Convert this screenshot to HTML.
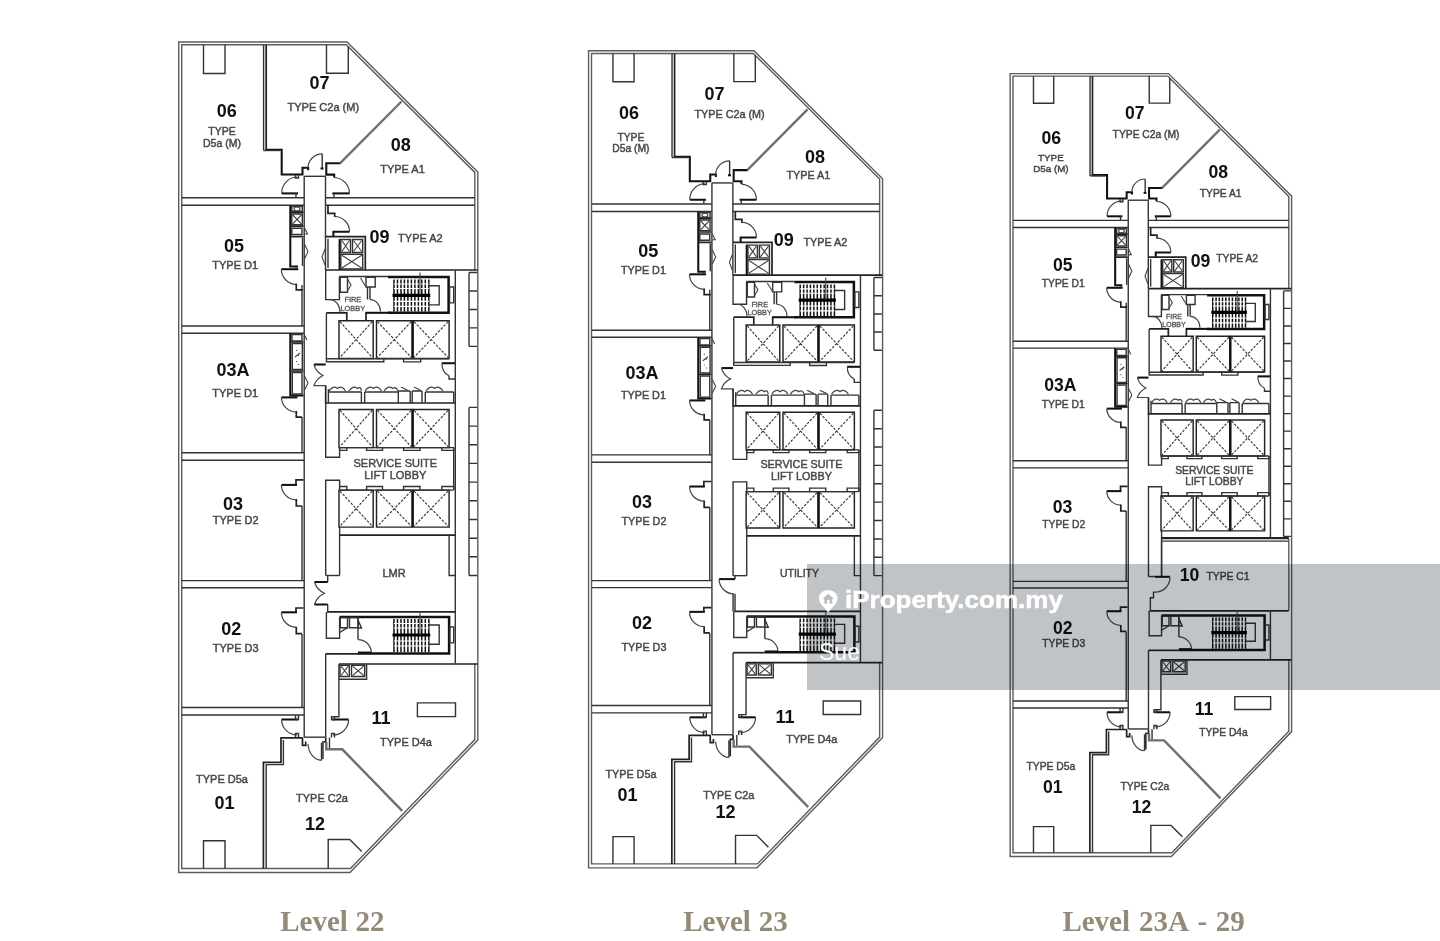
<!DOCTYPE html>
<html><head><meta charset="utf-8">
<style>
html,body{margin:0;padding:0;background:#fff;}
body{width:1440px;height:941px;overflow:hidden;position:relative;font-family:"Liberation Sans",sans-serif;}
svg{position:absolute;left:0;top:0;}
#main{filter:blur(0.45px);}
path{fill:none;vector-effect:non-scaling-stroke;}
.o{stroke:#5c5c5c;stroke-width:1.4;}
.t{stroke:#333;stroke-width:1.4;}
.k1{stroke:#222;stroke-width:1.7;}
.k{stroke:#111;stroke-width:2.05;}
.kk{stroke:#111;stroke-width:2.5;}
.g{stroke:#707070;stroke-width:2.4;}
.a{stroke:#444;stroke-width:1.2;}
.d{stroke:#444;stroke-width:1.1;}
.dx{stroke:#3a3a3a;stroke-width:1.15;stroke-dasharray:2.6 1.4;}
.t2{stroke:#222;stroke-width:1.45;}
.s{stroke:#111;stroke-width:1.5;}
.w{stroke:#fff;stroke-width:1.1;}
.b{stroke:#000;stroke-width:3.2;}
text{font-family:"Liberation Sans",sans-serif;}
.n{font-weight:bold;fill:#111;}
.m{fill:#484848;stroke:#484848;stroke-width:0.45;}
.f{fill:#555;stroke:#555;stroke-width:0.3;}
.lv{font-family:"Liberation Serif",serif;fill:#948a77;}
.wm{position:absolute;left:807px;top:564px;width:633px;height:126px;background:#c0c4c7;mix-blend-mode:multiply;}
.wmt{position:absolute;left:844.6px;top:585.2px;color:#fff;font-weight:bold;font-size:24.5px;white-space:nowrap;line-height:30px;transform:scaleX(1.062);transform-origin:0 0;-webkit-text-stroke:0.5px #fff;}
.sue{position:absolute;left:819px;top:638px;color:#fff;font-size:23px;line-height:28px;}
</style></head><body>
<svg id="main" width="1440" height="941" viewBox="0 0 1440 941">
<defs>
<g id="common">
<path class="o" d="M178.7 42H347L477.8 172V740L350 872.5H178.7Z"/>
<path class="o" d="M474.8 270V172.4L346.3 44.7H181.7V868.5H350.5L474.8 739.6V663.5"/>
<path class="t" d="M304 197.7H181.7M181.7 205.3H304"/>
<path class="t" d="M304 326H181.7M181.7 333.2H304"/>
<path class="t" d="M304 452.7H181.7M181.7 460.2H304"/>
<path class="t" d="M304 580.6H181.7M181.7 587.7H304"/>
<path class="t" d="M304 707.5H181.7M181.7 715H304"/>
<path class="t" d="M325.5 197.7H474.8M474.8 205.3H325.5"/>
<path class="t" d="M304.2 176.3V737.2M302 285V326M302 417V453M302 506V581M302 634V707.5"/>
<path class="t" d="M325.5 176.3V270"/>
<path class="t" d="M304.2 176.3H325.5"/>
<path class="t" d="M304.2 737.2H325.5"/>
<path class="t" d="M325.7 653.8V737.2"/>
<path class="t" d="M203.5 44.7V73.5H225V44.7"/>
<path class="t" d="M326.5 44.7V73.3H348.3V47"/>
<path class="t" d="M203.5 868.5V840.8H225V868.5"/>
<path class="t" d="M328.2 868.5V839.5H349.7L361.7 851.5"/>
<path class="t" d="M263.6 44.7V150.5"/>
<path class="k1" d="M266.2 44.7V149.5"/>
<path class="k" d="M265.5 149.7H281.7V174.5H302.5V167.8H308.2V170.3"/>
<path class="t" d="M263.6 150.5H280"/>
<path class="t" d="M322.2 153.8V168.5"/>
<path class="a" d="M322.2 153.8A14.2 14.2 0 0 0 308 168"/>
<path class="k" d="M320.5 168.5H323.5"/>
<path class="k" d="M340.6 163.3H326.3V174.6H334.2V177.5"/>
<path class="g" d="M340.2 163.2L401.5 101.5"/>
<path class="k" d="M281.7 193.4H298"/>
<path class="a" d="M281.7 193.4A16 16 0 0 1 297 177"/>
<path class="t" d="M295.5 175V178H298.5V175M296 193.4V197.5"/>
<path class="k" d="M332.3 193.4H349.5"/>
<path class="a" d="M349.5 193.4A16 16 0 0 0 334.2 177.5"/>
<path class="t" d="M334 193.4V197.5"/>
<path class="k1" d="M328 205.3V213.3H334.7V217"/>
<path class="a" d="M334.7 216.5A15 15 0 0 1 349.5 231.5"/>
<path class="k" d="M349.5 231.7H333.4V236.7"/>
<path class="k" d="M290.3 205.3V266.5H298"/>
<path class="k1" d="M290.3 212.3H303.5M290.3 226.2H303.5M290.3 236.7H303.5"/>
<path class="t" d="M291.8 214H302.3V224.8H291.8Z"/><path class="d" d="M292.8 215L301.3 223.8M301.3 215L292.8 223.8"/>
<path class="t" d="M291.8 206.5H302.3V211.3H291.8Z"/>
<path class="d" d="M294 209A3 2 0 1 0 300 209A3 2 0 1 0 294 209"/>
<path class="t" d="M291.8 228.2H302V234.5H291.8Z"/>
<path class="t" d="M302.5 238V266"/>
<path class="d" d="M304.5 228L307.5 234H304.5M304.5 244L308 251.5L304.5 259"/>
<path class="k" d="M281.3 269.2H298.3"/>
<path class="a" d="M281.3 269.2A15.5 15.5 0 0 0 296 284.5"/>
<path class="k1" d="M296.3 283.5V289.8H303"/>
<path class="t" d="M296 266.5V269"/>
<path class="k" d="M290.3 333.2V395.5H303.5"/>
<path class="k1" d="M290.3 342H303.5M290.3 371H303.5"/>
<path class="t" d="M292 334.5H302V341H292Z"/>
<path class="t" d="M292.3 343.5H302.3V369.5H292.3Z"/>
<path class="d" d="M296.5 350V351M298.5 355V356M296.5 361V362M298.5 364V365M295 357L300 353"/>
<path class="t" d="M292.3 372.5H302V394H292.3Z"/>
<path class="d" d="M304.5 335L307 340M304.5 376L308 383L304.5 390"/>
<path class="k" d="M281.4 397.4H297.5"/>
<path class="a" d="M281.4 397.4A15 15 0 0 0 296 412"/>
<path class="k1" d="M296.3 411V417.2H302"/>
<path class="k1" d="M303.5 479.8H296V484.9"/>
<path class="k" d="M281.4 484.9H297"/>
<path class="a" d="M281.4 484.9A15 15 0 0 0 296 499.8"/>
<path class="k1" d="M296.3 499V506H302"/>
<path class="k1" d="M303.5 608H296V612.3"/>
<path class="k" d="M281.4 612.3H297"/>
<path class="a" d="M281.4 612.3A15 15 0 0 0 296 627.3"/>
<path class="k1" d="M296.3 626.8V633.6H302"/>
<path class="k" d="M281.6 719.5H298"/>
<path class="a" d="M281.6 719.5A15.5 15.5 0 0 0 297 735"/>
<path class="t" d="M295.5 715V719.5H298.5V715M295.5 737.5V733.5H298.5V737.5"/>
<path class="k" d="M331.9 719.5H348.6"/>
<path class="a" d="M348.6 719.5A15.5 15.5 0 0 1 333 735"/>
<path class="t" d="M331.5 716.5V719.5H334.5V716.5M331.5 737.5V733.5H334.5V737.5"/>
<path class="k1" d="M302.5 737.8H281V762.3H263.4V868.5"/>
<path class="t" d="M283.4 740V764.6H266.2V868.5"/>
<path class="k1" d="M302.5 737.5V745.3H305.7V741.5"/>
<path class="t" d="M321.5 742.7V760.3M323 742.7V759"/>
<path class="a" d="M321.5 760.3A14 17 0 0 1 308 744"/>
<path class="k1" d="M325.7 737.5V742H322"/>
<path class="t" d="M329.5 737.5V748.5"/>
<path class="g" d="M326.3 742V749.3H342.3L402.2 810.8"/>
<path class="t" d="M338.9 664V716.8H331"/>
<path class="k1" d="M338.9 664H477.5"/>
<path class="t" d="M339 679.2H366.6V664"/>
<path class="t" d="M340 665.2H349.3V676.5H340Z"/><path class="d" d="M341 666.2L348.3 675.5M348.3 666.2L341 675.5"/>
<path class="t" d="M351.5 665.2H364.7V676.5H351.5Z"/><path class="d" d="M352.5 666.2L363.7 675.5M363.7 666.2L352.5 675.5"/>
<path class="t" d="M417.4 702.9H455.5V716.6H417.4Z"/>
<path class="k1" d="M325.6 270H477.5"/>
<path class="t" d="M339.2 276.5H388"/>
<path class="k1" d="M325.6 236.7H365.3V270"/>
<path class="t" d="M328 238.8V268"/>
<path class="k" d="M339.6 239V270"/>
<path class="t" d="M340.8 239.5H350.5V252.5H340.8Z"/><path class="d" d="M341.8 240.5L349.5 251.5M349.5 240.5L341.8 251.5"/>
<path class="t" d="M352.5 239.5H362.7V252.5H352.5Z"/><path class="d" d="M353.5 240.5L361.7 251.5M361.7 240.5L353.5 251.5"/>
<path class="t" d="M340.8 254.2H362.7V269H340.8Z"/><path class="d" d="M341.8 255.2L361.7 268M361.7 255.2L341.8 268"/>
<path class="d" d="M325 249L322 257L325 265"/>
<path class="t" d="M325.7 270V299.6H339.4V276.5"/>
<path class="t" d="M340.2 277.2H347.5V292.3H340.2Z"/>
<path class="d" d="M347.5 279L351 285L347.5 291"/>
<path class="t" d="M366 277.2H375.2V287H366Z"/>
<path class="d" d="M360.5 278L366 287"/>
<path class="t" d="M367.5 287V299.6M370 287V299.6"/>
<path class="a" d="M330 299.6A10 12.5 0 0 1 340 312"/>
<path class="a" d="M370 299.6A10.5 12 0 0 1 380.5 311.5"/>
<path class="k1" d="M326.4 312.8H346.8V320.5M366 320.5V312.8"/>
<path class="k" d="M365.3 312.8H390"/>
<path class="kk" d="M388 277H448.6V312.8H388"/>
<path class="s" d="M394.0 279.5V311.5M397.5 279.5V311.5M401.0 279.5V311.5M404.4 279.5V311.5M407.9 279.5V311.5M411.4 279.5V311.5M414.9 279.5V311.5M418.4 279.5V311.5M421.8 279.5V311.5M425.3 279.5V311.5M428.8 279.5V311.5"/><path class="w" d="M394 284.0H428.8M394 288.5H428.8M394 301.4H428.8M394 306.4H428.8"/><path class="b" d="M392.5 295.4H430.3"/>
<path class="t" d="M429 285.7H439.2V304.9H429"/>
<path class="d" d="M420 272.5V295"/>
<path class="t" d="M449.6 287H453.7V302.9H449.6Z"/>
<path class="t2" d="M339 320.7H373.2V358.4H339Z"/><path class="dx" d="M340 321.7L372.2 357.4M372.2 321.7L340 357.4"/>
<path class="t2" d="M376.5 320.7H412.2V358.4H376.5Z"/><path class="dx" d="M377.5 321.7L411.2 357.4M411.2 321.7L377.5 357.4"/>
<path class="t2" d="M413 320.7H449.1V358.4H413Z"/><path class="dx" d="M414 321.7L448.1 357.4M448.1 321.7L414 357.4"/>
<path class="k" d="M412.6 320.7V358.4"/>
<path class="t2" d="M339 409.4H373.2V447.6H339Z"/><path class="dx" d="M340 410.4L372.2 446.6M372.2 410.4L340 446.6"/>
<path class="t2" d="M376.5 409.4H412.2V447.6H376.5Z"/><path class="dx" d="M377.5 410.4L411.2 446.6M411.2 410.4L377.5 446.6"/>
<path class="t2" d="M413 409.4H449.1V447.6H413Z"/><path class="dx" d="M414 410.4L448.1 446.6M448.1 410.4L414 446.6"/>
<path class="k" d="M412.6 409.4V447.6"/>
<path class="t2" d="M339 490.1H373.2V527.1H339Z"/><path class="dx" d="M340 491.1L372.2 526.1M372.2 491.1L340 526.1"/>
<path class="t2" d="M376.5 490.1H412.2V527.1H376.5Z"/><path class="dx" d="M377.5 491.1L411.2 526.1M411.2 491.1L377.5 526.1"/>
<path class="t2" d="M413 490.1H449.1V527.1H413Z"/><path class="dx" d="M414 491.1L448.1 526.1M448.1 491.1L414 526.1"/>
<path class="k" d="M412.6 490.1V527.1"/>
<path class="t" d="M326.4 312.8V361.8H383.8V358.6M326.4 358.8H449M403.6 358.6V361.9H420.7V358.6"/>
<path class="k" d="M313.9 364.5H325.7"/>
<path class="a" d="M313.9 364.5Q316 372 323 375.5Q316 379 313.9 385.6H326"/>
<path class="k" d="M441.8 363.2H455"/>
<path class="a" d="M442 363.2A13 13 0 0 0 449 375.7"/>
<path class="t" d="M449 375.7V379H455"/>
<path class="k1" d="M325.7 385.6V403H455.3"/>
<path class="t" d="M328.4 392H361.4M364.7 392H398.3M425.3 392H453.7M398.3 391H410.2M412.2 391H422"/>
<path class="t" d="M328.4 389V403M361.4 392V403M364.7 392V403M398.3 391V403M410.2 391V403M412.2 391V403M422 391V403M425.3 392V403M453.7 392V403"/>
<path class="a" d="M329 391Q333 385 337.5 388.5Q342 385 345.5 391M349 391Q353 385 357.5 388.5Q361 386 361.4 391M365 391Q369 385 373.5 388.5Q378 385 381.5 391M384 391Q388 385 392.5 388.5Q396 386 398 391M401 387L408 390.5M414 387L421 390.5M426 391Q430 385 434.5 388.5Q439 385 443 391"/>
<path class="t" d="M325.7 403V457.3H339.6V447.6"/>
<path class="t" d="M339.6 447.6V450.4H346.8V447.6"/>
<path class="t" d="M339.6 490.1V486.5H346.8V490.1"/>
<path class="t" d="M366.6 447.6V450.4H382.5V447.6"/>
<path class="t" d="M366.6 490.1V486.5H382.5V490.1"/>
<path class="t" d="M403.6 447.6V450.4H420V447.6"/>
<path class="t" d="M403.6 490.1V486.5H420V490.1"/>
<path class="t" d="M441.8 447.6V450.4H453.7V447.6"/>
<path class="t" d="M441.8 490.1V486.5H453.7V490.1"/>
<path class="t" d="M339 447.6H453.7M339 490.1H453.7M453.7 447.6V490.1"/>
<path class="t" d="M325.7 575.5V480.2H339.6V486.5"/>
<path class="t" d="M339.6 527.1V575.5"/>
<path class="k1" d="M339.6 535.1H455.3"/>
<path class="k1" d="M327 611.9H455.3"/>
<path class="t" d="M326.4 611.9V638.3H339.6V616.9"/>
<path class="kk" d="M339.6 616.9H449.1V653.4H358"/>
<path class="k1" d="M325.7 653.8H358"/>
<path class="t" d="M340.3 617.5H347.5V627.7H340.3Z"/>
<path class="t" d="M349.5 617.5H358V627.7H349.5Z"/>
<path class="t" d="M339.6 632.5L347.5 627.7M358 617V639.6M358 620L361.5 628H358"/>
<path class="a" d="M358 639.6A13.4 13.4 0 0 1 371.4 653"/>
<path class="kk" d="M358 652.8H371.5"/>
<path class="s" d="M394.0 619V652M397.5 619V652M401.0 619V652M404.4 619V652M407.9 619V652M411.4 619V652M414.9 619V652M418.4 619V652M421.8 619V652M425.3 619V652M428.8 619V652"/><path class="w" d="M394 623.5H428.8M394 628.0H428.8M394 641.0H428.8M394 646.0H428.8"/><path class="b" d="M392.5 635H430.3"/>
<path class="t" d="M429 625H439.2V644.2H429"/>
<path class="d" d="M420 613V635"/>
<path class="t" d="M449.8 627H453.7V642.9H449.8Z"/>
</g>
<g id="f12">
<path class="t" d="M469 272.5H477M469 291.0H477M469 309.5H477M469 327.9H477M469 346.4H477M469 272.5V346.4"/>
<path class="t" d="M469 407.4H477M469 426.1H477M469 444.8H477M469 463.4H477M469 482.1H477M469 500.8H477M469 519.5H477M469 538.2H477M469 556.8H477M469 575.5H477M469 407.4V575.5"/>
<path class="t" d="M455.3 270V663.5"/>
</g>
<g id="f3">
<path class="t" d="M469.3 272.5H477M469.3 291.1H477M469.3 309.7H477M469.3 328.3H477M469.3 346.9H477M469.3 365.5H477M469.3 384.1H477M469.3 402.7H477M469.3 421.3H477M469.3 439.9H477M469.3 458.5H477M469.3 477.1H477M469.3 495.7H477M469.3 514.3H477M469.3 532.9H477M469.3 272.5V533"/>
<path class="t" d="M455.3 270V535M455.3 612V663.5M455.3 535.3H474.8"/>
</g>
<g id="lmr">
<path class="t" d="M325.7 575.5H339.6"/>
<path class="t" d="M327.7 575.5V582M327.7 604.5V611.9"/>
<path class="k" d="M314.5 582H327.7M314.5 604.5H327.7"/>
<path class="a" d="M314.5 582Q316.5 589.5 324.5 593.2Q316.5 597 314.5 604.5"/>
<path class="t" d="M449.1 534.5V575.5H455.3"/>
</g>
<g id="util">
<path class="t" d="M325.7 575.5H339.6"/>
<path class="t" d="M327.7 575.5V579M327.7 594V611.9M325.7 594V611.9"/>
<path class="k" d="M311.5 579H327.7"/>
<path class="a" d="M311.5 579A15 15 0 0 0 326.5 594"/>
<path class="t" d="M449.1 534.5V575.5H455.3"/>
</g>
<g id="u10">
<path class="k1" d="M339.6 534.5H474.8"/>
<path class="t" d="M339.6 538H474.8"/>
<path class="k1" d="M455.3 611.9H474.8"/>
<path class="t" d="M339.6 538V575.8"/>
<path class="k" d="M332.5 575.8H348.5"/>
<path class="a" d="M348.5 575.8A15.5 15.5 0 0 1 334 592"/>
<path class="t" d="M334 592H331V598H327.7V611.9"/>
<path class="t" d="M325.7 575.5H332.5"/>
<path class="o" d="M474.8 535.3V612"/>
</g>
</defs>
<g id="p1">
<use href="#common"/><use href="#f12"/><use href="#lmr"/>
<text class="n" x="226.8" y="117.3" font-size="18" text-anchor="middle">06</text>
<text class="m" x="222" y="134.6" font-size="10.5" text-anchor="middle">TYPE</text>
<text class="m" x="222" y="146.7" font-size="10.5" text-anchor="middle">D5a (M)</text>
<text class="n" x="319.5" y="88.9" font-size="18" text-anchor="middle">07</text>
<text class="m" x="323.3" y="111.3" font-size="11" text-anchor="middle">TYPE C2a (M)</text>
<text class="n" x="400.8" y="150.9" font-size="18" text-anchor="middle">08</text>
<text class="m" x="402.5" y="173.3" font-size="11" text-anchor="middle">TYPE A1</text>
<text class="n" x="379.6" y="243.2" font-size="18" text-anchor="middle">09</text>
<text class="m" x="420.4" y="242.2" font-size="11" text-anchor="middle">TYPE A2</text>
<text class="n" x="234.0" y="252.4" font-size="18" text-anchor="middle">05</text>
<text class="m" x="235.2" y="269.3" font-size="11" text-anchor="middle">TYPE D1</text>
<text class="n" x="233.0" y="376.4" font-size="18" text-anchor="middle">03A</text>
<text class="m" x="235.2" y="396.5" font-size="11" text-anchor="middle">TYPE D1</text>
<text class="n" x="233.0" y="510.1" font-size="18" text-anchor="middle">03</text>
<text class="m" x="235.7" y="524.3" font-size="11" text-anchor="middle">TYPE D2</text>
<text class="n" x="231.2" y="634.6" font-size="18" text-anchor="middle">02</text>
<text class="m" x="235.7" y="652.3" font-size="11" text-anchor="middle">TYPE D3</text>
<text class="m" x="222" y="782.5" font-size="11" text-anchor="middle">TYPE D5a</text>
<text class="n" x="224.4" y="808.6" font-size="18" text-anchor="middle">01</text>
<text class="n" x="381.0" y="723.8" font-size="18" text-anchor="middle">11</text>
<text class="m" x="406" y="745.6" font-size="11" text-anchor="middle">TYPE D4a</text>
<text class="m" x="322" y="802.3" font-size="11" text-anchor="middle">TYPE C2a</text>
<text class="n" x="315.0" y="829.6" font-size="18" text-anchor="middle">12</text>
<text class="m" x="395.3" y="467" font-size="11" text-anchor="middle">SERVICE SUITE</text>
<text class="m" x="395.3" y="478.9" font-size="11" text-anchor="middle">LIFT LOBBY</text>
<text class="m" x="394" y="576.8" font-size="11" text-anchor="middle">LMR</text>
<text class="f" x="352.8" y="302.2" font-size="7.4" text-anchor="middle">FIRE</text>
<text class="f" x="352.8" y="310.8" font-size="7.4" text-anchor="middle">LOBBY</text>
</g>
<g id="p2" transform="translate(412.9,9.48) scale(0.983,0.9838)">
<use href="#common"/><use href="#f12"/><use href="#util"/>
</g>
<g id="p3" transform="translate(842,34.0) scale(0.941,0.9427)">
<use href="#common"/><use href="#f3"/><use href="#u10"/>
</g>
<text class="n" x="629" y="118.5" font-size="18" text-anchor="middle">06</text>
<text class="m" x="630.9" y="140.5" font-size="10.3" text-anchor="middle">TYPE</text>
<text class="m" x="630.9" y="152.3" font-size="10.3" text-anchor="middle">D5a (M)</text>
<text class="n" x="714.5" y="99.7" font-size="18" text-anchor="middle">07</text>
<text class="m" x="729.6" y="117.8" font-size="10.8" text-anchor="middle">TYPE C2a (M)</text>
<text class="n" x="814.9" y="162.7" font-size="18" text-anchor="middle">08</text>
<text class="m" x="808.3" y="179.2" font-size="10.8" text-anchor="middle">TYPE A1</text>
<text class="n" x="783.7" y="246" font-size="18" text-anchor="middle">09</text>
<text class="m" x="825.3" y="246.4" font-size="10.8" text-anchor="middle">TYPE A2</text>
<text class="n" x="648.2" y="256.6" font-size="18" text-anchor="middle">05</text>
<text class="m" x="643.4" y="273.8" font-size="10.8" text-anchor="middle">TYPE D1</text>
<text class="n" x="642" y="379.4" font-size="18" text-anchor="middle">03A</text>
<text class="m" x="643.4" y="399" font-size="10.8" text-anchor="middle">TYPE D1</text>
<text class="n" x="642" y="507.9" font-size="18" text-anchor="middle">03</text>
<text class="m" x="643.9" y="524.9" font-size="10.8" text-anchor="middle">TYPE D2</text>
<text class="n" x="642" y="628.8" font-size="18" text-anchor="middle">02</text>
<text class="m" x="643.9" y="650.8" font-size="10.8" text-anchor="middle">TYPE D3</text>
<text class="n" x="784.9" y="722.8" font-size="18" text-anchor="middle">11</text>
<text class="m" x="811.8" y="742.9" font-size="10.8" text-anchor="middle">TYPE D4a</text>
<text class="m" x="630.9" y="778.3" font-size="10.8" text-anchor="middle">TYPE D5a</text>
<text class="n" x="627.4" y="800.7" font-size="18" text-anchor="middle">01</text>
<text class="m" x="728.7" y="799" font-size="10.8" text-anchor="middle">TYPE C2a</text>
<text class="n" x="725.4" y="818.3" font-size="18" text-anchor="middle">12</text>
<text class="m" x="801.4" y="468.3" font-size="10.8" text-anchor="middle">SERVICE SUITE</text>
<text class="m" x="801.4" y="480.1" font-size="10.8" text-anchor="middle">LIFT LOBBY</text>
<text class="m" x="799.5" y="576.9" font-size="10.5" text-anchor="middle">UTILITY</text>
<text class="f" x="759.7" y="306.6" font-size="7.3" text-anchor="middle">FIRE</text>
<text class="f" x="759.7" y="315" font-size="7.3" text-anchor="middle">LOBBY</text>
<text class="n" x="1051.2" y="144" font-size="17.6" text-anchor="middle">06</text>
<text class="m" x="1050.9" y="160.5" font-size="9.8" text-anchor="middle">TYPE</text>
<text class="m" x="1050.9" y="171.6" font-size="9.8" text-anchor="middle">D5a (M)</text>
<text class="n" x="1134.7" y="118.5" font-size="17.6" text-anchor="middle">07</text>
<text class="m" x="1146.1" y="137.8" font-size="10.3" text-anchor="middle">TYPE C2a (M)</text>
<text class="n" x="1218.3" y="178" font-size="17.6" text-anchor="middle">08</text>
<text class="m" x="1220.7" y="196.9" font-size="10.3" text-anchor="middle">TYPE A1</text>
<text class="n" x="1200.6" y="266.6" font-size="17.6" text-anchor="middle">09</text>
<text class="m" x="1237.2" y="261.5" font-size="10.3" text-anchor="middle">TYPE A2</text>
<text class="n" x="1062.7" y="270.7" font-size="17.6" text-anchor="middle">05</text>
<text class="m" x="1063.2" y="287.2" font-size="10.3" text-anchor="middle">TYPE D1</text>
<text class="n" x="1060.4" y="391.1" font-size="17.6" text-anchor="middle">03A</text>
<text class="m" x="1063.2" y="407.6" font-size="10.3" text-anchor="middle">TYPE D1</text>
<text class="n" x="1062.6" y="512.6" font-size="17.6" text-anchor="middle">03</text>
<text class="m" x="1063.7" y="527.5" font-size="10.3" text-anchor="middle">TYPE D2</text>
<text class="n" x="1062.7" y="633.5" font-size="17.6" text-anchor="middle">02</text>
<text class="m" x="1063.7" y="647.2" font-size="10.3" text-anchor="middle">TYPE D3</text>
<text class="n" x="1204" y="715.4" font-size="17.6" text-anchor="middle">11</text>
<text class="m" x="1223.5" y="735.8" font-size="10.3" text-anchor="middle">TYPE D4a</text>
<text class="m" x="1050.9" y="770.4" font-size="10.3" text-anchor="middle">TYPE D5a</text>
<text class="n" x="1052.7" y="793.4" font-size="17.6" text-anchor="middle">01</text>
<text class="m" x="1144.9" y="790.1" font-size="10.3" text-anchor="middle">TYPE C2a</text>
<text class="n" x="1141.6" y="813.2" font-size="17.6" text-anchor="middle">12</text>
<text class="m" x="1214.3" y="473.7" font-size="10.3" text-anchor="middle">SERVICE SUITE</text>
<text class="m" x="1214.3" y="484.8" font-size="10.3" text-anchor="middle">LIFT LOBBY</text>
<text class="n" x="1189.5" y="581.1" font-size="17.6" text-anchor="middle">10</text>
<text class="m" x="1228" y="579.9" font-size="10.3" text-anchor="middle">TYPE C1</text>
<text class="f" x="1174" y="318.5" font-size="7" text-anchor="middle">FIRE</text>
<text class="f" x="1174" y="326.6" font-size="7" text-anchor="middle">LOBBY</text>
<text class="lv" y="931.2" font-size="29" font-weight="bold"><tspan x="280.2">Level</tspan><tspan x="355.5">22</tspan></text>
<text class="lv" y="931" font-size="29" font-weight="bold"><tspan x="683.2">Level</tspan><tspan x="758.8">23</tspan></text>
<text class="lv" y="931" font-size="29" font-weight="bold"><tspan x="1062.4">Level</tspan><tspan x="1139">23A</tspan><tspan x="1197.5">-</tspan><tspan x="1215.7">29</tspan></text>
</svg>
<div class="wm"></div>
<svg width="20.5" height="24.5" viewBox="0 0 22 28" preserveAspectRatio="none" style="left:818.2px;top:588.5px;"><path d="M11 1C5.2 1 1 5.3 1 10.8C1 17.5 8 21.5 11 27C14 21.5 21 17.5 21 10.8C21 5.3 16.8 1 11 1Z" style="fill:#fff;stroke:none"/><path d="M11 5.5L4.8 11H6.8V16.5H15.2V11H17.2Z" style="fill:#b9bdc1;stroke:none"/><rect x="9.6" y="12.5" width="2.8" height="4" fill="#fff"/></svg>
<div class="wmt">iProperty.com.my</div>
<div class="sue">Sue</div>
</body></html>
